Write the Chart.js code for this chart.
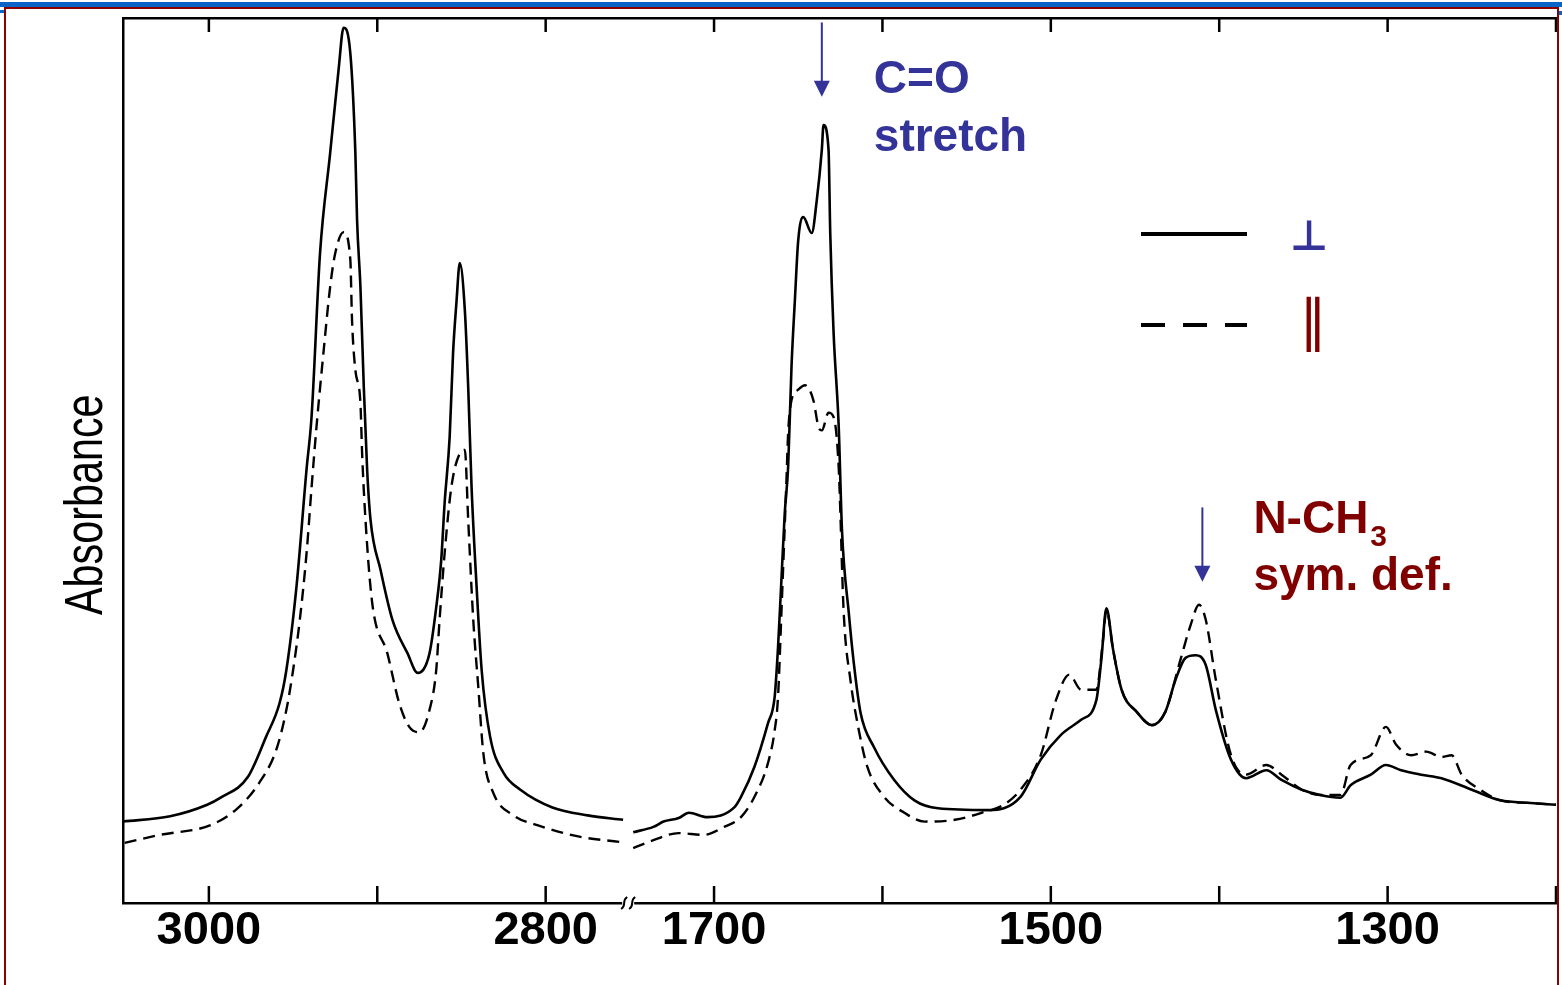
<!DOCTYPE html>
<html>
<head>
<meta charset="utf-8">
<title>Absorbance</title>
<script src="https://cdn.jsdelivr.net/npm/chart.js"></script>
<style>
  html, body { margin: 0; padding: 0; background: #fff; }
  #wrap { position: relative; width: 1562px; height: 985px; overflow: hidden; }
  #myChart { position: absolute; left: 0; top: 0; }
  .bar { position: absolute; background: #0a64c8; }
  #frame { position: absolute; left: 4px; top: 7px; width: 1551px; height: 1000px;
           border: 2px solid #8b0000; border-bottom: none; }
</style>
</head>
<body>
<div id="wrap">
  <canvas id="myChart" width="1562" height="985"></canvas>
  <div class="bar" style="left:0;top:2px;width:1562px;height:5px"></div>
  <div class="bar" style="left:0;top:10px;width:5px;height:3px"></div>
  <div class="bar" style="left:1558px;top:11px;width:4px;height:4px"></div>
  <div id="frame"></div>
</div>
<script>
// wavenumbers (cm-1) and absorbance
const perpWn = [3051, 3023, 3001, 2993, 2977, 2966, 2958, 2954, 2948, 2942,
  2939, 2934, 2928, 2923, 2920, 2916, 2913, 2912, 2910, 2908,
  2906, 2904, 2898, 2891, 2882, 2876, 2869, 2865, 2862, 2860,
  2857, 2855, 2853, 2851, 2848, 2846, 2844, 2841, 2838, 2833,
  2825, 2815, 2796, 2775, 2754,
  1748, 1736, 1730, 1721, 1715, 1704, 1688, 1684, 1676, 1668,
  1664, 1662, 1660, 1658, 1656, 1654, 1652, 1650, 1647, 1642,
  1639, 1636, 1635, 1632, 1631, 1629, 1626, 1624, 1620, 1617,
  1613, 1605, 1593, 1581, 1567, 1537, 1518, 1506, 1494, 1482,
  1473, 1470, 1467, 1463, 1458, 1449, 1440, 1432, 1426, 1420,
  1414, 1408, 1402, 1393, 1384, 1372, 1363, 1351, 1340, 1328,
  1322, 1310, 1301, 1292, 1280, 1268, 1250, 1233, 1215, 1200]
const perpAbs = [0.092, 0.098, 0.111, 0.119, 0.142, 0.188, 0.226, 0.263, 0.357, 0.49,
  0.55, 0.734, 0.847, 0.941, 0.989, 0.960, 0.847, 0.772, 0.696, 0.583,
  0.489, 0.433, 0.376, 0.320, 0.282, 0.260, 0.282, 0.334, 0.388, 0.452,
  0.527, 0.621, 0.678, 0.723, 0.670, 0.583, 0.470, 0.357, 0.263, 0.188,
  0.147, 0.128, 0.108, 0.099, 0.094,
  0.080, 0.086, 0.092, 0.096, 0.102, 0.097, 0.108, 0.120, 0.154, 0.203,
  0.233, 0.289, 0.365, 0.441, 0.493, 0.606, 0.681, 0.749, 0.775, 0.757,
  0.794, 0.851, 0.879, 0.851, 0.757, 0.644, 0.54, 0.42, 0.328, 0.271,
  0.215, 0.176, 0.139, 0.116, 0.107, 0.105, 0.120, 0.162, 0.190, 0.207,
  0.229, 0.275, 0.333, 0.286, 0.241, 0.216, 0.201, 0.216, 0.252, 0.277,
  0.280, 0.269, 0.218, 0.162, 0.141, 0.150, 0.139, 0.128, 0.122, 0.119,
  0.133, 0.145, 0.156, 0.150, 0.145, 0.141, 0.128, 0.116, 0.113, 0.111]

const paraWn = [3050, 3029, 2999, 2983, 2970, 2960, 2954, 2950, 2946, 2942,
  2939, 2936, 2932, 2928, 2925, 2920, 2916, 2915, 2913, 2910,
  2909, 2907, 2903, 2894, 2887, 2881, 2875, 2869, 2865, 2863,
  2860, 2856, 2851, 2848, 2846, 2843, 2840, 2837, 2831, 2819,
  2805, 2780, 2756,
  1748, 1736, 1721, 1706, 1694, 1684, 1676, 1668, 1664, 1662,
  1660, 1657, 1656, 1654, 1650, 1646, 1641, 1638, 1636, 1632,
  1629, 1626, 1623, 1619, 1614, 1609, 1599, 1587, 1575, 1557,
  1541, 1528, 1518, 1506, 1497, 1489, 1482, 1473, 1469, 1467,
  1463, 1458, 1449, 1440, 1432, 1423, 1417, 1412, 1408, 1402,
  1393, 1384, 1372, 1363, 1351, 1340, 1328, 1322, 1310, 1301,
  1295, 1286, 1277, 1268, 1262, 1256, 1245, 1233, 1215, 1200]
const paraAbs = [0.068, 0.077, 0.088, 0.107, 0.136, 0.173, 0.218, 0.263, 0.320, 0.395,
  0.470, 0.54, 0.621, 0.696, 0.734, 0.758, 0.727, 0.659, 0.602, 0.565,
  0.508, 0.433, 0.339, 0.282, 0.226, 0.199, 0.193, 0.218, 0.263, 0.320,
  0.395, 0.470, 0.508, 0.512, 0.433, 0.320, 0.244, 0.169, 0.124, 0.099,
  0.088, 0.075, 0.069,
  0.062, 0.071, 0.079, 0.077, 0.086, 0.097, 0.120, 0.158, 0.195, 0.233,
  0.328, 0.478, 0.531, 0.568, 0.580, 0.585, 0.568, 0.538, 0.534, 0.554,
  0.549, 0.493, 0.328, 0.252, 0.195, 0.154, 0.120, 0.102, 0.092, 0.094,
  0.102, 0.111, 0.128, 0.167, 0.229, 0.258, 0.241, 0.241, 0.297, 0.331,
  0.286, 0.241, 0.216, 0.201, 0.216, 0.275, 0.314, 0.337, 0.320, 0.252,
  0.167, 0.145, 0.156, 0.145, 0.128, 0.122, 0.122, 0.156, 0.167, 0.199,
  0.179, 0.167, 0.171, 0.165, 0.167, 0.145, 0.128, 0.116, 0.113, 0.111]

const tickWn = [3000, 2900, 2800, 1700, 1600, 1500, 1400, 1300, 1200]
const labelWn = [3000, 2800, 1700, 1500, 1300]

// broken axis: 3051..2751 then 1751..1200
const leftStart = 3051
const breakPos = 300
const rightStart = 1751

const blue = '#333399'
const darkRed = '#800000'
const fontFam = '"Liberation Sans", Arial, sans-serif'

function toPos(wn) {
  return wn > 2000 ? leftStart - wn : breakPos + (rightStart - wn)
}
function toWn(pos) {
  return pos < breakPos ? leftStart - pos : rightStart - (pos - breakPos)
}
function buildSeries(wns, abs) {
  let pts = []
  for (let i = 0; i < wns.length; i++) {
    if (i > 0 && wns[i - 1] > 2000 && wns[i] < 2000) {
      pts.push({x: breakPos, y: null})
    }
    pts.push({x: toPos(wns[i]), y: abs[i]})
  }
  return pts
}

function arrow(ctx, x, y1, y2, color) {
  ctx.strokeStyle = color
  ctx.fillStyle = color
  ctx.lineWidth = 2
  ctx.beginPath()
  ctx.moveTo(x, y1)
  ctx.lineTo(x, y2 - 14)
  ctx.stroke()
  ctx.beginPath()
  ctx.moveTo(x - 8, y2 - 16)
  ctx.lineTo(x + 8, y2 - 16)
  ctx.lineTo(x, y2)
  ctx.closePath()
  ctx.fill()
}

const extras = {
  id: 'extras',
  afterDraw(chart) {
    const ctx = chart.ctx
    const a = chart.chartArea
    const x = chart.scales.x
    const y = chart.scales.y
    ctx.save()

    // inward tick marks, top and bottom
    ctx.strokeStyle = '#000'
    ctx.lineWidth = 2.5
    tickWn.forEach(w => {
      const px = x.getPixelForValue(toPos(w))
      ctx.beginPath()
      ctx.moveTo(px, a.bottom)
      ctx.lineTo(px, a.bottom - 17)
      ctx.moveTo(px, a.top)
      ctx.lineTo(px, a.top + 14)
      ctx.stroke()
    })

    // break mark on the bottom axis
    const bx = x.getPixelForValue(breakPos)
    ctx.fillStyle = '#fff'
    ctx.fillRect(bx - 6, a.bottom - 3, 12, 6)
    ctx.lineWidth = 2
    ;[-4, 4].forEach(o => {
      ctx.beginPath()
      ctx.moveTo(bx + o - 3, a.bottom + 6)
      ctx.bezierCurveTo(bx + o + 3, a.bottom + 2, bx + o - 3, a.bottom - 2, bx + o + 3, a.bottom - 6)
      ctx.stroke()
    })

    // y axis title, narrow like the scan
    ctx.save()
    ctx.translate(102, a.top + 0.55 * (a.bottom - a.top))
    ctx.rotate(-Math.PI / 2)
    ctx.scale(0.78, 1)
    ctx.fillStyle = '#000'
    ctx.font = '53px ' + fontFam
    ctx.textAlign = 'center'
    ctx.textBaseline = 'alphabetic'
    ctx.fillText('Absorbance', 0, 0)
    ctx.restore()

    // C=O annotation
    const coX = x.getPixelForValue(toPos(1636))
    arrow(ctx, coX, y.getPixelForValue(0.995), y.getPixelForValue(0.911), blue)
    ctx.fillStyle = blue
    ctx.font = 'bold 46px ' + fontFam
    ctx.textAlign = 'left'
    ctx.textBaseline = 'alphabetic'
    ctx.fillText('C=O', coX + 52, 93)
    ctx.fillText('stretch', coX + 52, 151)

    // N-CH3 annotation
    const nX = x.getPixelForValue(toPos(1410))
    arrow(ctx, nX, y.getPixelForValue(0.447), y.getPixelForValue(0.363), blue)
    ctx.fillStyle = darkRed
    ctx.font = 'bold 46px ' + fontFam
    ctx.fillText('N-CH', nX + 51, 533)
    const w = ctx.measureText('N-CH').width
    ctx.font = 'bold 30px ' + fontFam
    ctx.fillText('3', nX + 51 + w + 2, 546)
    ctx.font = 'bold 46px ' + fontFam
    ctx.fillText('sym. def.', nX + 51, 590)

    // legend
    const lx = a.right - 415
    const meta = chart.data.datasets
    ctx.strokeStyle = '#000'
    ctx.lineWidth = 4
    ctx.setLineDash([])
    ctx.beginPath()
    ctx.moveTo(lx, 234)
    ctx.lineTo(lx + 106, 234)
    ctx.stroke()
    ctx.setLineDash([24, 18])
    ctx.beginPath()
    ctx.moveTo(lx, 325)
    ctx.lineTo(lx + 106, 325)
    ctx.stroke()
    ctx.setLineDash([])
    ctx.textAlign = 'center'
    ctx.fillStyle = blue
    ctx.font = 'bold 42px "DejaVu Sans"'
    ctx.fillText(meta[0].label, lx + 168, 250)
    ctx.fillStyle = darkRed
    ctx.font = '56px "DejaVu Sans"'
    ctx.fillText(meta[1].label, lx + 172, 340)

    ctx.restore()
  }
}

const config = {
  type: 'line',
  data: {
    datasets: [
      {
        label: '\u22A5',
        data: buildSeries(perpWn, perpAbs),
        borderColor: '#000',
        borderWidth: 2.6,
        pointRadius: 0,
        cubicInterpolationMode: 'monotone',
        spanGaps: false
      },
      {
        label: '\u2225',
        data: buildSeries(paraWn, paraAbs),
        borderColor: '#000',
        borderWidth: 2.4,
        borderDash: [12, 7],
        pointRadius: 0,
        cubicInterpolationMode: 'monotone',
        spanGaps: false
      }
    ]
  },
  options: {
    responsive: false,
    animation: false,
    devicePixelRatio: 1,
    layout: { padding: { left: 0, right: 6, top: 18, bottom: 0 } },
    plugins: { legend: { display: false }, tooltip: { enabled: false } },
    scales: {
      x: {
        type: 'linear',
        position: 'bottom',
        min: 0,
        max: toPos(1200),
        afterBuildTicks: function (scale) {
          scale.ticks = tickWn.map(w => ({ value: toPos(w) }))
        },
        afterFit: function (scale) { scale.height = 82 },
        grid: { display: false, drawTicks: false },
        border: { display: true, color: '#000', width: 2.5 },
        ticks: {
          autoSkip: false,
          maxRotation: 0,
          padding: 0,
          color: '#000',
          font: { family: fontFam, size: 47, weight: 'bold' },
          callback: function (value) {
            const wn = toWn(value)
            return labelWn.includes(wn) ? String(wn) : ''
          }
        }
      },
      xTop: {
        type: 'linear',
        position: 'top',
        min: 0,
        max: toPos(1200),
        afterFit: function (scale) { scale.height = 0 },
        grid: { display: false, drawTicks: false },
        border: { display: true, color: '#000', width: 2.5 },
        ticks: { display: false }
      },
      y: {
        min: 0,
        max: 1,
        afterFit: function (scale) { scale.width = 123 },
        grid: { display: false, drawTicks: false },
        border: { display: true, color: '#000', width: 2.5 },
        ticks: { display: false }
      }
    }
  },
  plugins: [extras]
}

const myChart = document.getElementById('myChart')
new Chart(myChart, config)
</script>
</body>
</html>
